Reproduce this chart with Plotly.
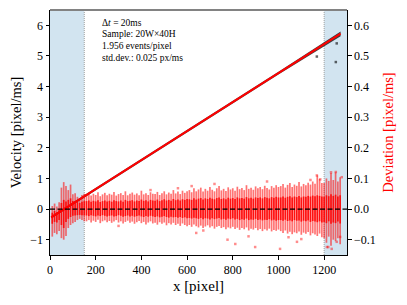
import plotly.graph_objects as go

# ---------------- data ----------------
x_ticks = [0, 200, 400, 600, 800, 1000, 1200]
y_ticks = [-1, 0, 1, 2, 3, 4, 5, 6]
y2_ticks = [-0.1, 0.0, 0.1, 0.2, 0.3, 0.4, 0.5, 0.6]

# deviation cloud columns (x in pixel)
dev_cols = list(range(10, 1280, 10))

dev_outer_hi = [
    0.010, 0.018, 0.008, 0.022, 0.070, 0.088, 0.075, 0.062, 0.080, 0.048, 0.052, 0.040, 0.036, 0.046, 0.050,
    0.048, 0.052, 0.044, 0.050, 0.046, 0.055, 0.042, 0.048, 0.053, 0.045,
    0.050, 0.047, 0.056, 0.044, 0.049, 0.052, 0.046, 0.058, 0.045, 0.050,
    0.054, 0.047, 0.051, 0.045, 0.060, 0.048, 0.052, 0.046, 0.055, 0.050,
    0.049, 0.056, 0.046, 0.052, 0.058, 0.048, 0.054, 0.050, 0.062, 0.051,
    0.057, 0.049, 0.060, 0.053, 0.058,
    0.062, 0.055, 0.068, 0.058, 0.064, 0.070, 0.057, 0.066, 0.060, 0.072,
    0.063, 0.058, 0.068, 0.075, 0.061, 0.066, 0.059, 0.071, 0.064, 0.068,
    0.060, 0.073, 0.065, 0.069, 0.062, 0.078, 0.066, 0.070, 0.063, 0.074,
    0.068, 0.072, 0.065, 0.076, 0.069, 0.064, 0.075, 0.070, 0.078, 0.072,
    0.075, 0.082, 0.070, 0.079, 0.085, 0.072, 0.080, 0.076, 0.088, 0.074,
    0.082, 0.078, 0.086, 0.080, 0.090, 0.083, 0.110, 0.098, 0.085,
    0.085, 0.100, 0.092, 0.118, 0.095, 0.120, 0.090, 0.104,
]
dev_outer_lo = [
    -0.090, -0.078, -0.082, -0.072, -0.095, -0.100, -0.088, -0.062, -0.052, -0.046, -0.042, -0.036, -0.032, -0.036, -0.040,
    -0.040, -0.036, -0.044, -0.038, -0.042, -0.035, -0.046, -0.040, -0.037, -0.043,
    -0.039, -0.045, -0.041, -0.036, -0.044, -0.040, -0.047, -0.042, -0.038, -0.045,
    -0.041, -0.048, -0.043, -0.039, -0.046, -0.042, -0.050, -0.044, -0.040, -0.047,
    -0.045, -0.051, -0.043, -0.048, -0.044, -0.053, -0.046, -0.050, -0.045, -0.052,
    -0.048, -0.055, -0.047, -0.052, -0.056,
    -0.052, -0.058, -0.050, -0.056, -0.060, -0.054, -0.062, -0.057, -0.053, -0.060,
    -0.056, -0.064, -0.058, -0.055, -0.062, -0.059, -0.066, -0.060, -0.063, -0.058,
    -0.065, -0.061, -0.068, -0.062, -0.066, -0.060, -0.070, -0.064, -0.067, -0.062,
    -0.069, -0.065, -0.072, -0.066, -0.070, -0.064, -0.073, -0.068, -0.071, -0.067,
    -0.072, -0.078, -0.070, -0.080, -0.074, -0.082, -0.076, -0.079, -0.073, -0.084,
    -0.077, -0.081, -0.075, -0.086, -0.079, -0.083, -0.088, -0.080, -0.092,
    -0.095, -0.110, -0.090, -0.120, -0.100, -0.105, -0.095, -0.115,
]
dev_core_hi = [
    -0.012, -0.006, -0.010, 0.000, 0.020, 0.030, 0.025, 0.030, 0.035, 0.026, 0.025, 0.024, 0.020, 0.024, 0.026,
    0.026, 0.028, 0.024, 0.027, 0.025, 0.029, 0.023, 0.026, 0.028, 0.025,
    0.027, 0.024, 0.029, 0.026, 0.025, 0.028, 0.024, 0.030, 0.026, 0.027,
    0.029, 0.025, 0.028, 0.026, 0.031, 0.027, 0.029, 0.025, 0.030, 0.028,
    0.027, 0.031, 0.026, 0.029, 0.032, 0.028, 0.030, 0.027, 0.033, 0.029,
    0.031, 0.028, 0.032, 0.030, 0.033,
    0.032, 0.030, 0.035, 0.031, 0.034, 0.036, 0.031, 0.035, 0.033, 0.037,
    0.034, 0.032, 0.036, 0.038, 0.033, 0.035, 0.032, 0.037, 0.034, 0.036,
    0.033, 0.038, 0.035, 0.036, 0.034, 0.039, 0.035, 0.037, 0.034, 0.038,
    0.036, 0.038, 0.035, 0.039, 0.037, 0.035, 0.039, 0.037, 0.040, 0.038,
    0.038, 0.041, 0.037, 0.040, 0.042, 0.038, 0.041, 0.039, 0.043, 0.038,
    0.041, 0.040, 0.043, 0.041, 0.044, 0.042, 0.045, 0.043, 0.041,
    0.040, 0.045, 0.042, 0.048, 0.043, 0.047, 0.041, 0.045,
]
dev_core_lo = [
    -0.048, -0.042, -0.044, -0.036, -0.052, -0.062, -0.042, -0.032, -0.026, -0.022, -0.021, -0.020, -0.019, -0.020, -0.021,
    -0.021, -0.023, -0.020, -0.022, -0.024, -0.021, -0.023, -0.020, -0.022, -0.024,
    -0.022, -0.021, -0.024, -0.023, -0.020, -0.022, -0.025, -0.023, -0.021, -0.024,
    -0.022, -0.025, -0.023, -0.021, -0.024, -0.026, -0.023, -0.025, -0.022, -0.024,
    -0.026, -0.024, -0.027, -0.025, -0.023, -0.026, -0.028, -0.025, -0.027, -0.026,
    -0.028, -0.026, -0.029, -0.027, -0.030,
    -0.029, -0.031, -0.028, -0.030, -0.032, -0.029, -0.033, -0.030, -0.031, -0.034,
    -0.030, -0.033, -0.031, -0.029, -0.034, -0.032, -0.035, -0.031, -0.033, -0.030,
    -0.034, -0.032, -0.036, -0.033, -0.035, -0.031, -0.036, -0.034, -0.035, -0.032,
    -0.036, -0.034, -0.037, -0.035, -0.036, -0.033, -0.037, -0.035, -0.038, -0.036,
    -0.036, -0.038, -0.035, -0.039, -0.037, -0.040, -0.036, -0.038, -0.037, -0.041,
    -0.038, -0.040, -0.037, -0.042, -0.039, -0.041, -0.043, -0.040, -0.044,
    -0.042, -0.046, -0.040, -0.048, -0.044, -0.046, -0.041, -0.047,
]
assert len(dev_outer_hi) == len(dev_cols) == len(dev_outer_lo) == len(dev_core_hi) == len(dev_core_lo)

# isolated deviation points
dev_pts_x = [300, 440, 560, 620, 640, 671, 720, 777, 811, 869, 898, 950, 1007, 1044,
             1081, 1100, 1140, 1168, 1183, 1212, 1218, 1230, 1233, 1251, 1255, 1270, 1277]
dev_pts_y = [-0.055, 0.062, 0.068, 0.075, -0.078, -0.070, 0.082, -0.100, -0.114, -0.089, -0.124, 0.090, -0.130, -0.092,
             -0.107, -0.098, 0.095, 0.110, 0.097, -0.124, -0.124, 0.120, -0.130, 0.121, -0.107, -0.091, 0.104]

# measured velocity band (black points) and true velocity line (red)
vel_band_x = [8, 300, 700, 1000, 1272]
vel_band_hi = [-0.22, 1.16, 3.06, 4.48, 5.80]
vel_band_lo = [-0.30, 1.09, 2.98, 4.39, 5.64]
vel_out_x = [1168, 1251, 1255]
vel_out_y = [4.98, 4.80, 5.41]
line_x = [5, 1272]
line_y = [-0.27, 5.73]

FONT = "Liberation Serif"

fig = go.Figure()

# black measured-velocity band
fig.add_trace(go.Scatter(x=vel_band_x + vel_band_x[::-1], y=vel_band_hi + vel_band_lo[::-1],
                         fill="toself", fillcolor="rgba(20,20,20,0.8)", line=dict(width=0),
                         mode="lines", hoverinfo="skip", showlegend=False))
fig.add_trace(go.Scatter(x=vel_out_x, y=vel_out_y, mode="markers",
                         marker=dict(symbol="square", size=2.5, color="rgba(0,0,0,0.6)"),
                         showlegend=False))
# true velocity line
fig.add_trace(go.Scatter(x=line_x, y=line_y, mode="lines",
                         line=dict(color="red", width=2), showlegend=False))

# deviation cloud (right axis) as vertical streaks
def streaks(xs, lo, hi):
    sx, sy = [], []
    for xv, a, b in zip(xs, lo, hi):
        sx += [xv, xv, None]
        sy += [a, b, None]
    return sx, sy

ox, oy = streaks(dev_cols, dev_outer_lo, dev_outer_hi)
cx, cy = streaks(dev_cols, dev_core_lo, dev_core_hi)
fig.add_trace(go.Scatter(x=ox, y=oy, mode="lines", yaxis="y2",
                         line=dict(color="rgba(255,0,0,0.55)", width=1.7), showlegend=False))
fig.add_trace(go.Scatter(x=cx, y=cy, mode="lines", yaxis="y2",
                         line=dict(color="rgba(255,0,0,0.85)", width=1.7), showlegend=False))
fig.add_trace(go.Scatter(x=dev_pts_x, y=dev_pts_y, mode="markers", yaxis="y2",
                         marker=dict(symbol="square", size=2.5, color="rgba(255,0,0,0.45)"),
                         showlegend=False))

shapes = [
    dict(type="rect", xref="x", yref="paper", x0=0, x1=150, y0=0, y1=1,
         fillcolor="rgb(210,228,240)", line=dict(width=0), layer="below"),
    dict(type="rect", xref="x", yref="paper", x0=1200, x1=1300, y0=0, y1=1,
         fillcolor="rgb(210,228,240)", line=dict(width=0), layer="below"),
    dict(type="line", xref="x", yref="paper", x0=150, x1=150, y0=0, y1=1,
         line=dict(color="rgb(160,160,160)", width=1, dash="1px,1px"), layer="below"),
    dict(type="line", xref="x", yref="paper", x0=1200, x1=1200, y0=0, y1=1,
         line=dict(color="rgb(160,160,160)", width=1, dash="1px,1px"), layer="below"),
    dict(type="line", xref="x", yref="y", x0=0, x1=1300, y0=0, y1=0,
         line=dict(color="black", width=1.3, dash="5px,2.5px"), layer="above"),
    dict(type="line", xref="paper", yref="paper", x0=0, x1=1, y0=1, y1=1,
         line=dict(color="rgb(130,130,130)", width=2), layer="above"),
]

texts = ["Δ<i>t</i> = 20ms", "Sample: 20W×40H", "1.956 events/pixel", "std.dev.: 0.025 px/ms"]
ys = [0.948, 0.901, 0.853, 0.805]
annotations = [dict(text=t, xref="paper", yref="paper", x=0.168, y=yy, xanchor="left",
                    yanchor="middle", showarrow=False, font=dict(family=FONT, size=9.5, color="black"))
               for t, yy in zip(texts, ys)]

axis_common = dict(showgrid=False, zeroline=False, showline=True, linecolor="black", linewidth=1,
                   ticks="outside", ticklen=3.5, tickwidth=1, tickcolor="black", automargin=False,
                   tickfont=dict(family=FONT, size=12, color="black"))

fig.update_layout(
    width=407, height=305,
    margin=dict(l=50, r=60, t=10, b=50),
    paper_bgcolor="white", plot_bgcolor="white",
    shapes=shapes, annotations=annotations,
    xaxis=dict(range=[0, 1300], tickvals=x_ticks,
               title=dict(text="x [pixel]", font=dict(family=FONT, size=15, color="black"), standoff=4),
               **axis_common),
    yaxis=dict(range=[-1.5, 6.5], tickvals=y_ticks,
               title=dict(text="Velocity [pixel/ms]", font=dict(family=FONT, size=14.5, color="black"), standoff=5),
               **axis_common),
    yaxis2=dict(range=[-0.15, 0.65], tickvals=y2_ticks, tickformat=".1f", overlaying="y", side="right",
                title=dict(text="Deviation [pixel/ms]", font=dict(family=FONT, size=14.5, color="red"), standoff=8),
                **axis_common),
    showlegend=False,
)

fig.write_html("out.html", config={"displayModeBar": False},
               post_script="document.body.style.margin='0';document.body.style.overflow='hidden';")
